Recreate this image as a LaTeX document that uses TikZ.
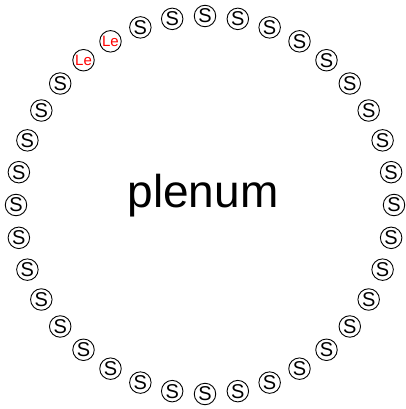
\documentclass[tikz,border=0pt]{standalone}
\usepackage{fontspec}
\setmainfont{Liberation Sans}
\usetikzlibrary{calc}
\begin{document}
\begin{tikzpicture}[x=1pt,y=1pt,
  sbox/.style={circle,draw=black,line width=0.9pt,minimum size=21.5pt,inner sep=0pt,font=\fontsize{20}{20}\selectfont},
  lebox/.style={circle,draw=black,line width=0.9pt,minimum size=21.5pt,inner sep=0pt,text=red,font=\fontsize{15}{15}\selectfont}]
\useasboundingbox (0,0) rectangle (405,-409);
\coordinate (c) at (205,-205);
\node[font=\fontsize{46}{46}\selectfont] (title) at (203,-196) {plenum};
\foreach \i in {0,...,35}{
  \pgfmathsetmacro{\ang}{90+10*\i}
  \ifnum\i=3
    \node[lebox] (n\i) at ($(c)+(\ang:189)$) {Le};
  \else\ifnum\i=4
    \node[lebox] (n\i) at ($(c)+(\ang:189)$) {Le};
  \else
    \node[sbox] (n\i) at ($(c)+(\ang:189)$) {S};
  \fi\fi
}
\end{tikzpicture}
\end{document}
